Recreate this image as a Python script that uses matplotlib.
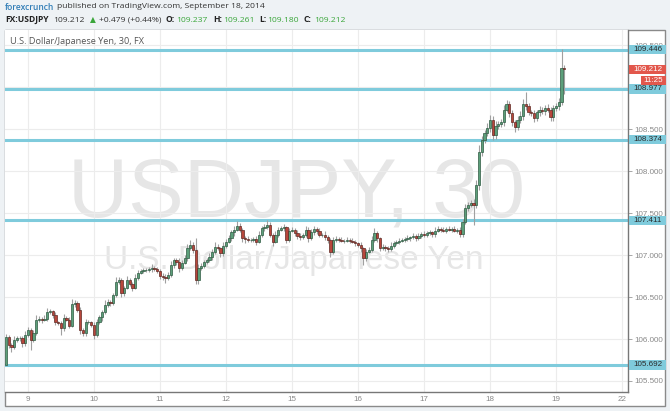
import matplotlib
matplotlib.use("Agg")
import matplotlib.pyplot as plt
from matplotlib.patches import Rectangle
import numpy as np

W, H = 670, 411

# USD/JPY hourly candles, Sep 8 16:00 .. Sep 19 03:00 (closes)
first_open = 105.69
sep08 = [106.02, 105.93, 105.91, 105.99, 106.01, 106.01, 105.95, 106.05]
sep09 = [106.11, 105.99, 106.07, 106.23, 106.24, 106.23, 106.24, 106.32, 106.33, 106.29, 106.20, 106.19,
         106.13, 106.25, 106.23, 106.16, 106.42, 106.43, 106.35, 106.11, 106.07, 106.20, 106.20, 106.17]
sep10 = [106.05, 106.20, 106.26, 106.32, 106.41, 106.44, 106.43, 106.52, 106.68, 106.70, 106.55, 106.61,
         106.70, 106.66, 106.61, 106.73, 106.79, 106.81, 106.82, 106.82, 106.83, 106.85, 106.83, 106.81]
sep11 = [106.75, 106.74, 106.73, 106.76, 106.88, 106.94, 106.92, 106.85, 106.91, 106.96, 107.08, 107.12,
         107.06, 106.70, 106.85, 106.87, 106.92, 106.94, 106.98, 107.04, 107.10, 107.08, 107.02, 107.11]
sep12 = [107.16, 107.20, 107.27, 107.30, 107.35, 107.30, 107.20, 107.19, 107.18, 107.18, 107.19, 107.16,
         107.24, 107.32, 107.33, 107.36, 107.24, 107.16, 107.24, 107.30, 107.32, 107.33, 107.18, 107.29]
sep15 = [107.30, 107.26, 107.23, 107.21, 107.24, 107.30, 107.20, 107.27, 107.31, 107.29, 107.24, 107.24,
         107.21, 107.18, 107.04, 107.18, 107.19, 107.18, 107.17, 107.17, 107.18, 107.17, 107.16, 107.14]
sep16 = [107.12, 107.08, 106.96, 107.04, 107.06, 107.18, 107.26, 107.20, 107.08, 107.10, 107.08, 107.07,
         107.11, 107.14, 107.16, 107.17, 107.18, 107.19, 107.20, 107.21, 107.23, 107.20, 107.23, 107.25]
sep17 = [107.24, 107.26, 107.27, 107.25, 107.29, 107.31, 107.30, 107.29, 107.31, 107.30, 107.31, 107.29,
         107.30, 107.25, 107.39, 107.56, 107.60, 107.62, 107.60, 107.83, 108.23, 108.37, 108.45, 108.51]
sep18 = [108.61, 108.43, 108.54, 108.56, 108.58, 108.73, 108.80, 108.69, 108.58, 108.52, 108.61, 108.66,
         108.80, 108.77, 108.70, 108.69, 108.63, 108.70, 108.73, 108.71, 108.75, 108.73, 108.64, 108.75]
sep19 = [108.77, 108.82, 109.23, 109.212]

# wicks beyond the body, in pips
wick_up = ([4, 3, 2, 5, 3, 2, 3, 4] +
           [3, 2, 4, 6, 3, 2, 4, 5, 3, 2, 3, 2, 3, 5, 2, 3, 6, 4, 2, 3, 2, 4, 3, 2] +
           [3, 4, 2, 3, 5, 4, 2, 3, 6, 4, 3, 2, 5, 3, 2, 4, 3, 2, 3, 2, 3, 4, 2, 3] +
           [2, 3, 3, 4, 5, 3, 2, 4, 3, 4, 5, 6, 3, 14, 4, 3, 2, 3, 4, 3, 5, 3, 2, 4] +
           [3, 4, 3, 5, 6, 3, 2, 3, 4, 2, 3, 4, 5, 3, 4, 6, 3, 2, 4, 3, 3, 4, 2, 3] +
           [3, 2, 4, 3, 2, 5, 3, 4, 3, 2, 3, 2, 4, 3, 2, 3, 4, 2, 3, 2, 3, 2, 3, 2] +
           [2, 3, 2, 3, 4, 5, 6, 3, 2, 3, 2, 3, 4, 3, 2, 3, 2, 3, 4, 2, 3, 2, 3, 2] +
           [3, 2, 3, 2, 4, 3, 2, 3, 2, 3, 2, 3, 2, 3, 4, 5, 3, 4, 5, 6, 8, 5, 4, 6] +
           [6, 4, 5, 3, 4, 6, 5, 3, 4, 3, 4, 5, 6, 14, 4, 3, 4, 3, 4, 3, 4, 5, 3, 4] +
           [4, 5, 22, 3])
wick_dn = ([0, 4, 6, 3, 2, 3, 4, 3] +
           [3, 12, 3, 2, 3, 4, 2, 3, 2, 4, 3, 2, 8, 3, 2, 3, 2, 4, 3, 5, 4, 3, 2, 3] +
           [5, 3, 2, 4, 2, 3, 4, 3, 2, 3, 5, 4, 2, 3, 4, 2, 3, 2, 3, 2, 2, 3, 2, 3] +
           [3, 4, 6, 3, 2, 3, 4, 5, 3, 2, 3, 2, 4, 4, 5, 3, 2, 3, 2, 4, 3, 2, 4, 3] +
           [3, 2, 3, 4, 2, 3, 4, 5, 3, 2, 3, 4, 2, 3, 4, 2, 3, 5, 2, 3, 2, 3, 4, 3] +
           [2, 3, 4, 3, 2, 3, 4, 2, 3, 4, 3, 2, 3, 4, 6, 3, 2, 3, 2, 3, 2, 3, 2, 3] +
           [3, 4, 8, 3, 2, 3, 2, 4, 3, 2, 3, 4, 2, 3, 2, 3, 2, 3, 2, 3, 2, 3, 2, 3] +
           [2, 3, 2, 4, 3, 2, 3, 2, 3, 2, 3, 2, 3, 4, 3, 2, 4, 3, 24, 4, 6, 5, 4, 3] +
           [4, 6, 5, 4, 3, 4, 3, 5, 4, 6, 3, 4, 5, 4, 3, 4, 5, 3, 4, 3, 4, 3, 5, 4] +
           [3, 4, 3, 29])

levels = [109.446, 108.977, 108.374, 107.411, 105.692]
price_ticks = [105.5, 106.0, 106.5, 107.0, 107.5, 108.0, 108.5, 109.0, 109.5]
day_labels = ["9", "10", "11", "12", "15", "16", "17", "18", "19", "22"]
last_price = 109.212
countdown = "11:25"

closes = np.array(sep08 + sep09 + sep10 + sep11 + sep12 + sep15 + sep16 + sep17 + sep18 + sep19)
opens = np.concatenate([[first_open], closes[:-1]])
highs = np.maximum(opens, closes) + np.array(wick_up) / 100
lows = np.minimum(opens, closes) - np.array(wick_dn) / 100
idx = np.arange(len(closes))
day_pos = 8 + 24 * np.arange(len(day_labels))

UP, UP_EDGE = "#5c9f7a", "#2f5a42"
DN, DN_EDGE = "#b8463b", "#5e2a24"
LEVEL = "#7fcbdc"
BG = "#eef2f5"


def fx(x):
    return x / W


def fy(y):
    return 1 - y / H


fig = plt.figure(figsize=(W / 100, H / 100), dpi=100, facecolor=BG)
fig.add_artist(Rectangle((fx(5), fy(406)), fx(660), (406 - 30) / H, transform=fig.transFigure,
                         facecolor="white", edgecolor="#8a8a8a", lw=1, zorder=0))

ax = fig.add_axes([fx(5), fy(392), fx(623), 362 / H])
ax.set_facecolor("white")
ax.set_xlim(-0.36, 226.18)
ax.set_ylim(105.369, 109.679)

ax.set_xticks(day_pos)
ax.set_xticklabels(day_labels)
ax.set_yticks(price_ticks)
ax.set_yticklabels([f"{p:.3f}" for p in price_ticks])
ax.yaxis.tick_right()
ax.grid(color="#ececec", lw=0.8, zorder=0)
ax.set_axisbelow(True)
for s in ["left", "top"]:
    ax.spines[s].set_visible(False)
for s in ["right", "bottom"]:
    ax.spines[s].set_color("#777777")
    ax.spines[s].set_linewidth(1)
ax.tick_params(axis="y", length=3, width=0.6, color="#999999", labelsize=5.8, labelcolor="#888888", pad=1.5)
ax.tick_params(axis="x", length=0, labelsize=5.8, labelcolor="#888888", pad=3)
for lab in ax.get_xticklabels() + ax.get_yticklabels():
    lab.set_family("Liberation Sans")

# watermark
ax.text(0.468, (392 - 217) / 362, "USDJPY, 30", transform=ax.transAxes, ha="center", va="baseline",
        fontsize=60, color="#e6e6e6", family="Liberation Sans", zorder=0.5)
ax.text(0.463, (392 - 269) / 362, "U.S. Dollar/Japanese Yen", transform=ax.transAxes, ha="center",
        va="baseline", fontsize=24, color="#e6e6e6", family="Liberation Sans", zorder=0.5)

# level lines
for lv in levels:
    ax.axhline(lv, color=LEVEL, lw=2.2, zorder=1.5)

# candles
up = closes >= opens
ax.vlines(idx, lows, highs, color="#a0a0a0", lw=0.8, zorder=2)
ax.bar(idx[up], (closes - opens)[up], bottom=opens[up], width=0.85,
       color=UP, edgecolor=UP_EDGE, lw=0.5, zorder=3)
ax.bar(idx[~up], (closes - opens)[~up], bottom=opens[~up], width=0.85,
       color=DN, edgecolor=DN_EDGE, lw=0.5, zorder=3)

ax.text(0.008, 1 - 12 / 362, "U.S. Dollar/Japanese Yen, 30, FX", transform=ax.transAxes,
        ha="left", va="center", fontsize=6.6, color="#555555", family="Open Sans", zorder=6)

fig.canvas.draw()


def ypx(p):
    return H - ax.transData.transform((0, p))[1]


# right-axis labels for the levels
for lv in levels:
    y = ypx(lv)
    fig.add_artist(Rectangle((fx(628.5), fy(y + 4.7)), fx(37), 9.4 / H, transform=fig.transFigure,
                             facecolor=LEVEL, edgecolor="none", zorder=5))
    fig.text(fx(633), fy(y), f"{lv:.3f}", ha="left", va="center", fontsize=5.8,
             color="#2a2a2a", family="Liberation Sans", zorder=6)

y = ypx(last_price)
fig.add_artist(Rectangle((fx(628.5), fy(y + 4.7)), fx(37), 9.4 / H, transform=fig.transFigure,
                         facecolor="#e2574c", edgecolor="none", zorder=5))
fig.text(fx(633), fy(y), f"{last_price:.3f}", ha="left", va="center", fontsize=5.8,
         color="white", family="Liberation Sans", zorder=6)
fig.add_artist(Rectangle((fx(641), fy(y + 16)), fx(24.5), 9 / H, transform=fig.transFigure,
                         facecolor="#e2574c", edgecolor="none", zorder=5))
fig.text(fx(653.5), fy(y + 11.5), countdown, ha="center", va="center", fontsize=5.8,
         color="white", family="Liberation Sans", zorder=6)

# header
hf = "Open Sans"
fs = 6.1
fig.text(fx(5), fy(7), "forexcrunch", ha="left", va="center", fontsize=fs, color="#2f7cb6",
         family=hf, weight="semibold")
fig.text(fx(57), fy(7), "published on TradingView.com, September 18, 2014", ha="left", va="center",
         fontsize=fs, color="#333333", family=hf)

GREEN = "#3aa63a"
row = [(5, "FX:USDJPY", "#222222", "bold"), (53, "109.212", "#333333", "normal"),
       (99, "+0.479 (+0.44%)", "#333333", "normal"),
       (166, "O:", "#222222", "bold"), (176, "109.237", GREEN, "normal"),
       (213, "H:", "#222222", "bold"), (223, "109.261", GREEN, "normal"),
       (259, "L:", "#222222", "bold"), (267, "109.180", GREEN, "normal"),
       (304, "C:", "#222222", "bold"), (314, "109.212", GREEN, "normal")]
for x, s, c, w in row:
    fig.text(fx(x), fy(20), s, ha="left", va="center", fontsize=fs, color=c, family=hf, weight=w)
fig.text(fx(92.5), fy(20), "\u25B2", ha="center", va="center", fontsize=5.5, color=GREEN,
         family="DejaVu Sans")

fig.savefig("out.png", dpi=100, facecolor=BG)
